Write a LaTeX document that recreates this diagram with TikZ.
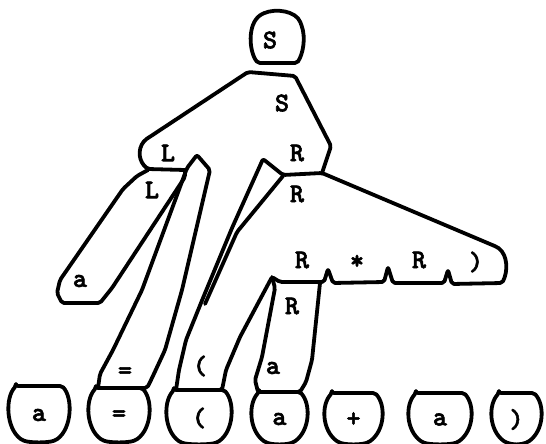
\documentclass[tikz,border=0pt]{standalone}
\usepackage{fontspec}
\newfontfamily\typefont[FakeBold=2]{lmmonolt10-bold.otf}
\usepackage{tikz}
\usetikzlibrary{positioning}
% one token at the bottom: name, left, right, top, bottom, text
\newcommand{\tokblob}[6]{%
  \draw[outline] (#2+6,#4) -- (#3-6,#4)
     .. controls (#3+5,#4+12) and (#3+4,#5-12) .. (#3-12,#5)
     .. controls (#3-20,#5+3) and (#2+20,#5+3) .. (#2+12,#5)
     .. controls (#2-4,#5-12) and (#2-5,#4+12) .. (#2+6,#4) -- cycle;
  \node[glyph] (#1) at ({(#2+#3)/2},{(#4+#5)/2+2}) {#6};}

\begin{document}
\begin{tikzpicture}[x=1pt, y=-1pt,
    outline/.style={line width=3.8pt, line join=round, line cap=round, rounded corners=2pt},
    glyph/.style={font=\typefont\fontsize{27}{27}\selectfont, inner sep=0pt}]
  \useasboundingbox (0,0) rectangle (546,444);

  % the start symbol on top
  \draw[outline] (258,63) .. controls (249,52) and (247,24) .. (262,14)
     .. controls (276,8) and (296,11) .. (301,24)
     .. controls (306,38) and (303,54) .. (297,63) -- cycle;
  \node[glyph] (stop) at (270,40) {S};

  % S region, L on the left
  \draw[outline] (322,173) -- (331,146) -- (295,76) -- (248,72) -- (145,140)
     .. controls (137,150) and (139,162) .. (148,169) -- (185,170);
  \node[glyph] (sreg) at (282,103) {S};
  \node[glyph] (lup) at (168,153) {L};
  \node[glyph] (rup) at (297,153) {R};

  % L -> a
  \draw[outline] (148,170) -- (137,176) -- (123,189) -- (60,280) -- (57,293)
     -- (62,303) -- (100,303) -- (112,288) -- (185,177) -- (185,170);
  \node[glyph] (ldown) at (152,190) {L};
  \node[glyph] (la) at (80,281) {a};

  % sliver down to =
  \draw[outline] (187,168) -- (197,155) -- (210,170) -- (182,290) -- (165,350)
     -- (152,378) -- (147,388) -- (98,388) -- (100,374) -- (113,350)
     -- (142,290) -- cycle;
  \node[glyph] (eqs) at (125,373) {=};

  % R region with ( R * R )
  \draw[outline] (322,173) -- (283,175) -- (263,159) -- (232,228) -- (203,298)
     -- (186,340) -- (179,370) -- (176,390) -- (222,390) -- (226,370)
     -- (240,337) -- (272,277) -- (280,282) -- (324,282) -- (328,269)
     -- (333,283) -- (384,282) -- (388,267) -- (393,283) -- (444,283)
     -- (448,270) -- (452,284) -- (502,283)
     .. controls (508,272) and (508,255) .. (497,247) -- cycle;
  \draw[outline] (283,176) -- (237,232) -- (205,304);
  \node[glyph] (rdown) at (297,194) {R};
  \node[glyph] (pars) at (200,366) {(};
  \node[glyph] (rone) at (302,260) {R};
  \node[glyph] (star) at (357,262) {*};
  \node[glyph] (rtwo) at (419,260) {R};
  \node[glyph] (clos) at (476,262) {)};

  % R -> a
  \draw[outline] (272,277) -- (275,288) -- (262,357) -- (255,380) -- (258,392)
     -- (300,392) -- (306,382) -- (312,360) -- (320,283);
  \node[glyph] (rr) at (292,306) {R};
  \node[glyph] (ra) at (273,368) {a};

  % the input tokens
  \tokblob{ta}{10}{68}{386}{440}{a}
  \tokblob{teq}{90}{148}{388}{440}{=}
  \tokblob{tlp}{168}{230}{390}{442}{(}
  \tokblob{tb}{253}{306}{392}{442}{a}
  \tokblob{tplus}{326}{381}{393}{442}{+}
  \tokblob{tc}{410}{470}{393}{442}{a}
  \tokblob{trp}{493}{540}{393}{442}{)}
\end{tikzpicture}
\end{document}
